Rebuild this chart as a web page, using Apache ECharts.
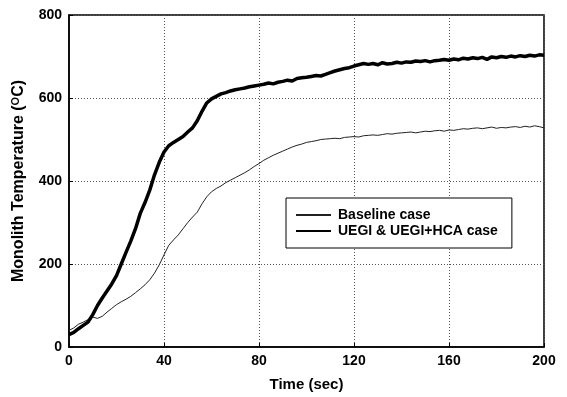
<!DOCTYPE html>
<html>
<head>
<meta charset="utf-8">
<script src="https://cdn.jsdelivr.net/npm/echarts@6/dist/echarts.min.js"></script>
<style>
  html, body { margin: 0; padding: 0; background: #fff; }
  #chart { width: 567px; height: 397px; }
</style>
</head>
<body>
<div id="chart"></div>
<script>
// Sample times (s)
const timeSec = [
  0, 2, 4, 6, 8, 10, 12, 14, 16, 18, 20, 22, 24, 26, 28, 30, 32, 34, 36, 38,
  40, 42, 44, 46, 48, 50, 52, 54, 56, 58, 60, 62, 64, 66, 68, 70, 72, 74, 76, 78,
  80, 82, 84, 86, 88, 90, 92, 94, 96, 98, 100, 102, 104, 106, 108, 110, 112, 114, 116, 118,
  120, 122, 124, 126, 128, 130, 132, 134, 136, 138, 140, 142, 144, 146, 148, 150, 152, 154, 156, 158,
  160, 162, 164, 166, 168, 170, 172, 174, 176, 178, 180, 182, 184, 186, 188, 190, 192, 194, 196, 198, 200
];

// Monolith temperature, baseline case (°C)
const baselineTemp = [
  40, 46, 55, 60, 66, 72, 69, 74, 84, 93,
  102, 109, 115, 122, 131, 140, 150, 162, 178, 198,
  222, 245, 258, 270, 285, 300, 313, 325, 345, 362,
  374, 382, 388, 396, 402, 408, 414, 420, 427, 435,
  442, 450, 456, 462, 467, 472, 477, 482, 486, 489,
  493, 495, 497, 500, 501, 502, 503, 502, 505, 506,
  507, 506, 509, 510, 511, 510, 512, 514, 513, 515,
  516, 517, 518, 516, 518, 520, 519, 521, 522, 520,
  523, 522, 524, 526, 525, 527, 528, 526, 528, 530,
  527, 529, 528, 530, 531, 529, 532, 530, 533, 531,
  528
];

// Monolith temperature, UEGI & UEGI+HCA case (°C)
const uegiTemp = [
  30, 35, 44, 52, 60, 78, 100, 118, 135, 152,
  172, 200, 228, 255, 285, 322, 348, 378, 415, 445,
  470, 485, 493, 500, 507, 518, 528, 545, 568, 588,
  598, 604, 610, 613, 617, 620, 622, 624, 627, 629,
  631, 633, 636, 634, 638, 640, 643, 641, 647, 649,
  650, 652, 654, 653, 657, 661, 665, 668, 671, 673,
  677, 680, 683, 681, 683, 680, 685, 682, 683, 686,
  684, 687, 686, 689, 688, 690, 687, 690, 691, 693,
  691, 694, 692, 696, 694, 697, 695, 698, 693, 699,
  697, 700, 698, 701, 699, 702, 700, 703, 701, 704,
  703
];

const seriesNames = ['Baseline case', 'UEGI & UEGI+HCA case'];
const xTicks = [0, 40, 80, 120, 160, 200];
const yTicks = [0, 200, 400, 600, 800];

const FONT = "'Liberation Sans', Arial, sans-serif";
const toPairs = (ys) => timeSec.map((t, i) => [t, ys[i]]);

const chart = echarts.init(document.getElementById('chart'), null, { renderer: 'canvas' });

const gridLine = { show: true, lineStyle: { color: '#555', width: 1, type: [1, 2] } };

chart.setOption({
  backgroundColor: '#fff',
  animation: false,
  grid: {
    left: 69, right: 23, top: 15, bottom: 50,
    show: true, borderColor: '#000', borderWidth: 1.5, backgroundColor: 'transparent'
  },
  legend: {
    orient: 'vertical',
    left: 286, top: 198,
    data: seriesNames,
    itemWidth: 35, itemHeight: 14, itemGap: 2,
    padding: [10, 14, 10, 9],
    borderColor: '#000', borderWidth: 1,
    backgroundColor: '#fff',
    itemStyle: { opacity: 0 },
    textStyle: { fontFamily: FONT, fontWeight: 'bold', fontSize: 14, color: '#000', padding: [0, 0, 0, 2] }
  },
  xAxis: {
    type: 'value',
    min: xTicks[0], max: xTicks[xTicks.length - 1], interval: 40,
    name: 'Time (sec)',
    nameLocation: 'middle', nameGap: 30,
    nameTextStyle: { fontFamily: FONT, fontWeight: 'bold', fontSize: 15, color: '#000' },
    axisLine: { show: true, lineStyle: { color: '#000', width: 1.5 } },
    axisTick: { show: true, inside: true, length: 4, lineStyle: { color: '#000' } },
    axisLabel: { fontFamily: FONT, fontWeight: 'bold', fontSize: 14, color: '#000', margin: 7 },
    splitLine: gridLine
  },
  yAxis: {
    type: 'value',
    min: yTicks[0], max: yTicks[yTicks.length - 1], interval: 200,
    name: '{t|Monolith Temperature (}{s|O}{t|C)}',
    nameLocation: 'middle', nameGap: 42, nameRotate: 90,
    nameTextStyle: {
      color: '#000',
      rich: {
        t: { fontFamily: FONT, fontWeight: 'bold', fontSize: 16, color: '#000' },
        s: { fontFamily: FONT, fontWeight: 'bold', fontSize: 11, color: '#000', verticalAlign: 'top', padding: [0, 0, 6, 0] }
      }
    },
    axisLine: { show: true, lineStyle: { color: '#000', width: 1.5 } },
    axisTick: { show: true, inside: true, length: 4, lineStyle: { color: '#000' } },
    axisLabel: { fontFamily: FONT, fontWeight: 'bold', fontSize: 14, color: '#000', margin: 7 },
    splitLine: gridLine
  },
  series: [
    {
      name: seriesNames[0],
      type: 'line',
      data: toPairs(baselineTemp),
      symbol: 'none',
      lineStyle: { color: '#222', width: 1 },
      itemStyle: { color: '#222' },
      z: 3
    },
    {
      name: seriesNames[1],
      type: 'line',
      data: toPairs(uegiTemp),
      symbol: 'none',
      lineStyle: { color: '#000', width: 3.5 },
      itemStyle: { color: '#000' },
      z: 4
    }
  ]
});
</script>
</body>
</html>
